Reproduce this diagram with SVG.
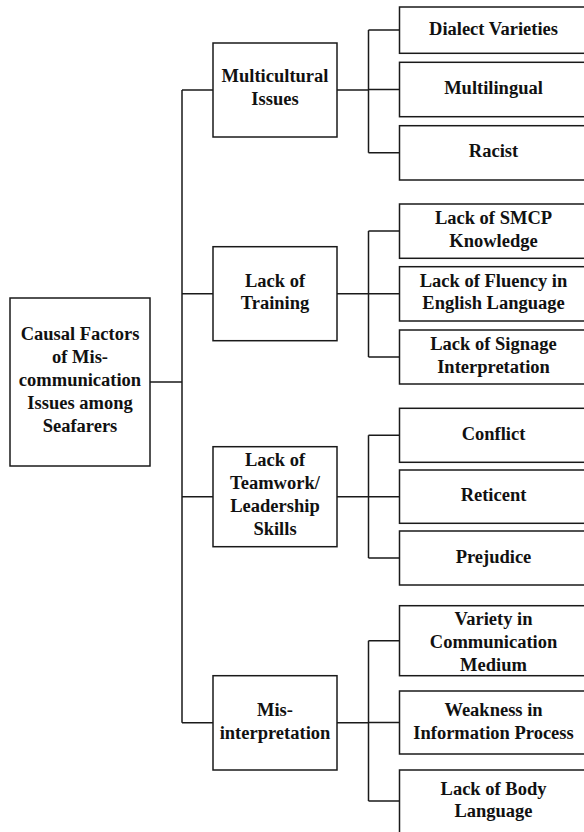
<svg xmlns="http://www.w3.org/2000/svg" width="584" height="832" viewBox="0 0 584 832">
<style>
rect.box{fill:#ffffff;stroke:#1a1a1a;stroke-width:1.5}
.conn path{fill:none;stroke:#1a1a1a;stroke-width:1.5}
text{font-family:"Liberation Serif","Times New Roman",serif;font-weight:bold;font-size:18.5px;fill:#111111;text-anchor:middle}
</style>
<rect width="584" height="832" fill="#ffffff"/>
<g class="conn" id="connectors">
<path d="M150,382 H182 M182,90 V722.8 M182,90 H213 M182,293.7 H213 M182,496.7 H213 M182,722.8 H213"/>
<path d="M337,90 H368.5 M368.5,30 V152.8 M368.5,30 H399.5 M368.5,89.5 H399.5 M368.5,152.8 H399.5"/>
<path d="M337,293.7 H368.5 M368.5,231 V357 M368.5,231 H399.5 M368.5,293.8 H399.5 M368.5,357 H399.5"/>
<path d="M337,496.7 H368.5 M368.5,435.3 V558 M368.5,435.3 H399.5 M368.5,496.7 H399.5 M368.5,558 H399.5"/>
<path d="M337,722.8 H368.5 M368.5,640.7 V801 M368.5,640.7 H399.5 M368.5,722.5 H399.5 M368.5,801 H399.5"/>
</g>
<g id="root">
<rect class="box" x="10" y="298" width="140" height="168"/>
<text x="80" y="340"><tspan x="80" y="340">Causal Factors</tspan><tspan x="80" y="363">of Mis-</tspan><tspan x="80" y="386">communication</tspan><tspan x="80" y="409">Issues among</tspan><tspan x="80" y="432">Seafarers</tspan></text>
</g>
<g id="multicultural">
<rect class="box" x="213" y="43" width="124" height="94"/>
<text x="275" y="82"><tspan x="275" y="82">Multicultural</tspan><tspan x="275" y="104.5">Issues</tspan></text>
</g>
<g id="training">
<rect class="box" x="213" y="246.7" width="124" height="94"/>
<text x="275" y="286.7"><tspan x="275" y="286.7">Lack of</tspan><tspan x="275" y="309.3">Training</tspan></text>
</g>
<g id="teamwork">
<rect class="box" x="213" y="446.7" width="124" height="100"/>
<text x="275" y="466"><tspan x="275" y="466">Lack of</tspan><tspan x="275" y="489">Teamwork/</tspan><tspan x="275" y="511.7">Leadership</tspan><tspan x="275" y="535">Skills</tspan></text>
</g>
<g id="misinterpretation">
<rect class="box" x="213" y="675.7" width="124" height="94.3"/>
<text x="275" y="716"><tspan x="275" y="716">Mis-</tspan><tspan x="275" y="738.5">interpretation</tspan></text>
</g>
<g id="dialect">
<rect class="box" x="399.5" y="7" width="188" height="46.3"/>
<text x="493.5" y="34.5">Dialect Varieties</text>
</g>
<g id="multilingual">
<rect class="box" x="399.5" y="62.3" width="188" height="54.4"/>
<text x="493.5" y="94">Multilingual</text>
</g>
<g id="racist">
<rect class="box" x="399.5" y="125.7" width="188" height="54.3"/>
<text x="493.5" y="157.3">Racist</text>
</g>
<g id="smcp">
<rect class="box" x="399.5" y="204" width="188" height="54.3"/>
<text x="493.5" y="224.3"><tspan x="493.5" y="224.3">Lack of SMCP</tspan><tspan x="493.5" y="246.7">Knowledge</tspan></text>
</g>
<g id="fluency">
<rect class="box" x="399.5" y="266.7" width="188" height="54.3"/>
<text x="493.5" y="287"><tspan x="493.5" y="287">Lack of Fluency in</tspan><tspan x="493.5" y="309.4">English Language</tspan></text>
</g>
<g id="signage">
<rect class="box" x="399.5" y="330" width="188" height="54"/>
<text x="493.5" y="350.3"><tspan x="493.5" y="350.3">Lack of Signage</tspan><tspan x="493.5" y="372.7">Interpretation</tspan></text>
</g>
<g id="conflict">
<rect class="box" x="399.5" y="408.3" width="188" height="54"/>
<text x="493.5" y="439.8">Conflict</text>
</g>
<g id="reticent">
<rect class="box" x="399.5" y="470" width="188" height="53.3"/>
<text x="493.5" y="501.2">Reticent</text>
</g>
<g id="prejudice">
<rect class="box" x="399.5" y="531" width="188" height="54"/>
<text x="493.5" y="562.5">Prejudice</text>
</g>
<g id="variety">
<rect class="box" x="399.5" y="605.7" width="188" height="70"/>
<text x="493.5" y="625"><tspan x="493.5" y="625">Variety in</tspan><tspan x="493.5" y="648.3">Communication</tspan><tspan x="493.5" y="671">Medium</tspan></text>
</g>
<g id="weakness">
<rect class="box" x="399.5" y="691" width="188" height="63"/>
<text x="493.5" y="716"><tspan x="493.5" y="716">Weakness in</tspan><tspan x="493.5" y="738.5">Information Process</tspan></text>
</g>
<g id="bodylanguage">
<rect class="box" x="399.5" y="770" width="188" height="64"/>
<text x="493.5" y="794.5"><tspan x="493.5" y="794.5">Lack of Body</tspan><tspan x="493.5" y="817">Language</tspan></text>
</g>
</svg>
